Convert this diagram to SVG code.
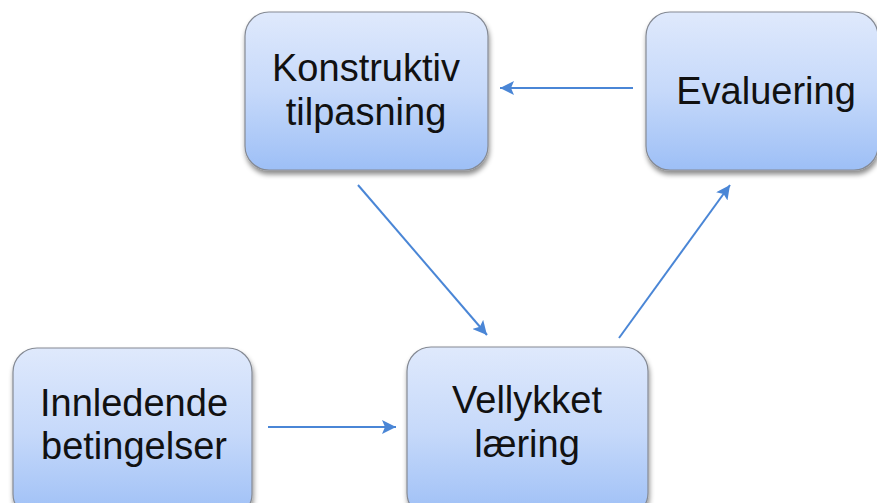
<svg xmlns="http://www.w3.org/2000/svg" width="877" height="503" viewBox="0 0 877 503">
<defs>
<linearGradient id="g" x1="0" y1="0" x2="0" y2="1">
<stop offset="0" stop-color="#dfe9fc"/>
<stop offset="0.5" stop-color="#c6d9fa"/>
<stop offset="1" stop-color="#9dbff6"/>
</linearGradient>
<filter id="sh" x="-10%" y="-10%" width="125%" height="130%">
<feDropShadow dx="1" dy="4" stdDeviation="2.5" flood-color="#000" flood-opacity="0.45"/>
</filter>
<marker id="ah" markerUnits="userSpaceOnUse" markerWidth="16" markerHeight="14" refX="14" refY="7" orient="auto">
<path d="M0,0 L14,7 L0,14 L3,7 Z" fill="#4a86d6"/>
</marker>
<style>
.box{fill:url(#g);stroke:#858a94;stroke-width:1.2;filter:url(#sh)}
.t{font-family:"Liberation Sans",Arial,sans-serif;font-size:38px;fill:#111;text-anchor:middle}
.c{stroke:#4a86d6;stroke-width:2;fill:none;marker-end:url(#ah)}
</style>
</defs>
<g id="connectors">
<line class="c" x1="633" y1="88" x2="500" y2="88"/>
<line class="c" x1="358" y1="185" x2="487" y2="335"/>
<line class="c" x1="619" y1="338" x2="730" y2="185"/>
<line class="c" x1="268" y1="427" x2="396" y2="427"/>
</g>
<g id="node-konstruktiv">
<rect class="box" x="245" y="12" width="243" height="158" rx="24"/>
<text class="t" x="366" y="81">Konstruktiv</text>
<text class="t" x="366" y="125">tilpasning</text>
</g>
<g id="node-evaluering">
<rect class="box" x="646" y="12" width="232" height="158" rx="24"/>
<text class="t" x="766" y="104">Evaluering</text>
</g>
<g id="node-innledende">
<rect class="box" x="13" y="348" width="239" height="170" rx="24"/>
<text class="t" x="134" y="416">Innledende</text>
<text class="t" x="134" y="459">betingelser</text>
</g>
<g id="node-vellykket">
<rect class="box" x="407" y="347" width="241" height="170" rx="24"/>
<text class="t" x="527" y="413">Vellykket</text>
<text class="t" x="527" y="457">læring</text>
</g>
</svg>
